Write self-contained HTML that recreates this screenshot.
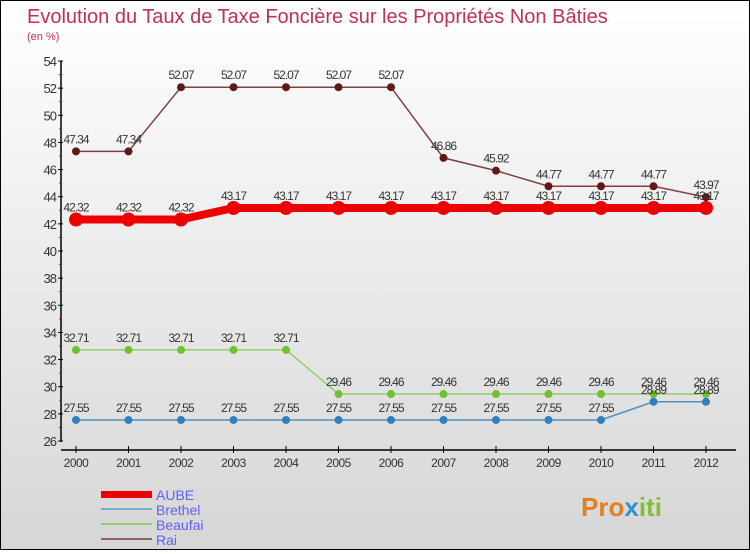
<!DOCTYPE html>
<html><head><meta charset="utf-8"><style>
html,body{margin:0;padding:0}
body{width:750px;height:550px;overflow:hidden;font-family:"Liberation Sans",sans-serif}
#wrap{position:relative;width:748px;height:548px;border:1px solid #000;background:linear-gradient(#ffffff,#d6d6d6)}
</style></head><body>
<div id="wrap">
<svg id="chart" width="748" height="548" viewBox="0 0 748 548">
<text x="26" y="22" font-size="20" fill="#c0305a">Evolution du Taux de Taxe Foncière sur les Propriétés Non Bâties</text>
<text x="26" y="39" font-size="11" fill="#c0305a">(en %)</text>
<g id="axes"></g><g id="series"></g>
<g>
<rect x="100" y="490" width="51" height="7" fill="#e00"/>
<text x="155" y="499" font-size="14" fill="#6060ff">AUBE</text>
<rect x="100" y="507" width="51" height="2" fill="#80a8c8"/>
<text x="155" y="514" font-size="14" fill="#6060ff">Brethel</text>
<rect x="100" y="522" width="51" height="2" fill="#90d070"/>
<text x="155" y="529" font-size="14" fill="#6060ff">Beaufai</text>
<rect x="100" y="537" width="51" height="2" fill="#906060"/>
<text x="155" y="544" font-size="14" fill="#6060ff">Rai</text>
</g>
<text x="580" y="515" font-size="26" font-weight="bold" fill="#e08020">Pro<tspan fill="#3090d0">x</tspan><tspan fill="#80c030">iti</tspan></text>
</svg>
</div>
<script>
const years=[2000,2001,2002,2003,2004,2005,2006,2007,2008,2009,2010,2011,2012];
const yTicks=[26,28,30,32,34,36,38,40,42,44,46,48,50,52,54];
const aube=[42.32,42.32,42.32,43.17,43.17,43.17,43.17,43.17,43.17,43.17,43.17,43.17,43.17];
const brethel=[27.55,27.55,27.55,27.55,27.55,27.55,27.55,27.55,27.55,27.55,27.55,28.89,28.89];
const beaufai=[32.71,32.71,32.71,32.71,32.71,29.46,29.46,29.46,29.46,29.46,29.46,29.46,29.46];
const rai=[47.34,47.34,52.07,52.07,52.07,52.07,52.07,46.86,45.92,44.77,44.77,44.77,43.97];
const NS='http://www.w3.org/2000/svg';
function xs(i){return 75+i*52.5;}
function ys(v){return 440-(v-26)*(380/28);}
function mk(t,a,p){const e=document.createElementNS(NS,t);for(const k in a)e.setAttribute(k,a[k]);p.appendChild(e);return e;}
const ax=document.getElementById('axes');
let l=mk('line',{x1:60,y1:60,x2:60,y2:441,stroke:'#000','stroke-width':1.5},ax);


l=mk('line',{x1:60,y1:449,x2:735,y2:449,stroke:'#000','stroke-width':1.5},ax);


yTicks.forEach(v=>{
 const y=ys(v);
 mk('line',{x1:57,y1:y,x2:62,y2:y,stroke:'#000'},ax);
 if(v<54) mk('line',{x1:58,y1:y-13.6,x2:61,y2:y-13.6,stroke:'#e00'},ax);
 const t=mk('text',{x:55,y:y+5,'font-size':13,'text-anchor':'end',fill:'#333','letter-spacing':'-1'},ax);
 t.textContent=v;
 
 
});
years.forEach((yr,i)=>{
 const x=xs(i);
 mk('line',{x1:x,y1:445,x2:x,y2:452,stroke:'#000'},ax);
 const t=mk('text',{x:x,y:466,'font-size':12,'text-anchor':'middle',fill:'#333','letter-spacing':'-0.5'},ax);
 t.textContent=yr;
 
 
});
const sg=document.getElementById('series');
function draw(name,vals,col,w,r,dot){
 const g=mk('g',{},sg);
 
 
 const p=mk('polyline',{points:vals.map((v,i)=>xs(i)+','+ys(v)).join(' '),fill:'none',stroke:col,'stroke-width':w},g);
 
 
 vals.forEach((v,i)=>{
  const c=mk('circle',{cx:xs(i),cy:ys(v),r:r,fill:dot},g);
  
  
  const t=mk('text',{x:xs(i),y:ys(v)-8,'font-size':12,'text-anchor':'middle',fill:'#333','letter-spacing':'-1'},g);
  t.textContent=v.toFixed(2);
  
  
 });
}
draw('rai',rai,'#804040',1.5,4,'#601818');
draw('aube',aube,'#ee0000',8,7,'#ee0000');
draw('beaufai',beaufai,'#90d070',1.5,4,'#70c030');
draw('brethel',brethel,'#5090c0',1.5,4,'#3080c0');
</script>
</body></html>
